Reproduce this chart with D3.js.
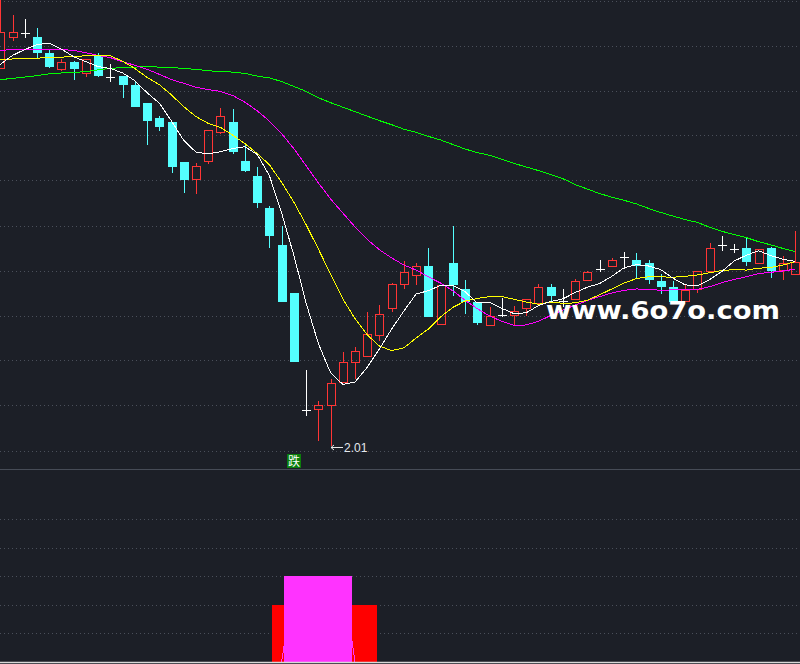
<!DOCTYPE html>
<html><head><meta charset="utf-8">
<script src="https://cdn.jsdelivr.net/npm/d3@7"></script>
<style>html,body{margin:0;padding:0;background:#1c1f27;}svg{display:block;}</style>
</head><body>
<svg id="c" width="800" height="664"></svg>
<script>
// ---- data (prices) ----
const days = d3.range(66);
const open = [2.851,2.918,2.928,2.918,2.884,2.847,2.864,2.838,2.878,2.831,
2.833,2.813,2.773,2.738,2.729,2.640,2.604,2.644,2.707,2.729,
2.644,2.609,2.540,2.456,2.349,2.091,2.093,2.100,2.153,2.196,
2.211,2.256,2.316,2.369,2.389,2.409,2.282,2.416,2.360,2.329,
2.278,2.302,2.302,2.316,2.327,2.364,2.333,2.336,2.380,2.404,
2.409,2.429,2.424,2.416,2.376,2.364,2.333,2.358,2.400,2.456,
2.447,2.449,2.416,2.449,2.402,2.393];
const high = [3.011,2.967,2.958,2.938,2.891,2.869,2.866,2.871,2.884,2.858,
2.833,2.818,2.773,2.744,2.729,2.640,2.638,2.713,2.762,2.758,
2.682,2.629,2.544,2.500,2.349,2.180,2.109,2.158,2.218,2.229,
2.307,2.324,2.373,2.422,2.416,2.449,2.367,2.500,2.380,2.329,
2.318,2.340,2.322,2.336,2.369,2.369,2.360,2.382,2.398,2.424,
2.427,2.442,2.440,2.424,2.393,2.376,2.371,2.400,2.462,2.476,
2.460,2.473,2.447,2.453,2.433,2.487];
const low = [2.849,2.909,2.916,2.873,2.849,2.844,2.824,2.829,2.829,2.818,
2.784,2.764,2.680,2.709,2.616,2.573,2.571,2.636,2.704,2.660,
2.620,2.540,2.449,2.329,2.196,2.076,2.021,2.010,2.153,2.160,
2.211,2.244,2.307,2.358,2.367,2.296,2.280,2.344,2.304,2.280,
2.276,2.296,2.280,2.300,2.327,2.333,2.318,2.336,2.376,2.396,
2.409,2.404,2.384,2.369,2.347,2.331,2.331,2.349,2.400,2.444,
2.438,2.411,2.416,2.384,2.380,2.393];
const close = [2.929,2.929,2.928,2.884,2.853,2.864,2.847,2.869,2.833,2.831,
2.813,2.764,2.733,2.718,2.629,2.600,2.633,2.713,2.744,2.664,
2.620,2.549,2.476,2.329,2.196,2.091,2.100,2.151,2.196,2.220,
2.260,2.304,2.369,2.396,2.409,2.296,2.367,2.367,2.329,2.284,
2.298,2.302,2.309,2.336,2.364,2.344,2.333,2.376,2.396,2.404,
2.424,2.429,2.411,2.380,2.364,2.331,2.356,2.400,2.449,2.456,
2.447,2.420,2.447,2.398,2.416,2.418];
const ma5 = [2.858,2.878,2.891,2.902,2.905,2.892,2.875,2.864,2.853,2.849,
2.839,2.822,2.795,2.772,2.732,2.689,2.663,2.659,2.664,2.671,
2.675,2.658,2.611,2.528,2.434,2.328,2.238,2.173,2.147,2.152,
2.185,2.226,2.270,2.310,2.348,2.355,2.367,2.367,2.353,2.328,
2.329,2.316,2.304,2.306,2.322,2.331,2.337,2.351,2.363,2.371,
2.387,2.406,2.413,2.410,2.402,2.383,2.368,2.366,2.380,2.398,
2.421,2.434,2.444,2.433,2.425,2.420];
const ma10 = [2.868,2.870,2.872,2.872,2.873,2.874,2.876,2.877,2.877,2.877,
2.865,2.849,2.829,2.813,2.790,2.764,2.742,2.727,2.718,2.701,
2.682,2.660,2.635,2.596,2.552,2.502,2.448,2.392,2.337,2.293,
2.257,2.232,2.222,2.228,2.250,2.270,2.297,2.318,2.332,2.338,
2.342,2.342,2.336,2.330,2.325,2.330,2.327,2.328,2.334,2.346,
2.359,2.372,2.382,2.386,2.386,2.385,2.387,2.390,2.395,2.400,
2.402,2.401,2.405,2.407,2.412,2.420];
const ma20 = [2.889,2.891,2.892,2.892,2.892,2.891,2.889,2.884,2.878,2.873,
2.864,2.856,2.847,2.836,2.824,2.816,2.807,2.802,2.798,2.789,
2.774,2.755,2.732,2.704,2.671,2.633,2.595,2.559,2.528,2.497,
2.469,2.446,2.428,2.412,2.401,2.386,2.372,2.355,2.334,2.315,
2.299,2.287,2.278,2.279,2.287,2.300,2.312,2.323,2.333,2.342,
2.350,2.356,2.359,2.358,2.356,2.357,2.357,2.358,2.364,2.373,
2.380,2.386,2.393,2.396,2.399,2.403];
const ma60 = [2.824,2.827,2.830,2.833,2.837,2.839,2.840,2.842,2.846,2.849,
2.851,2.852,2.853,2.852,2.851,2.849,2.847,2.844,2.842,2.841,
2.838,2.832,2.828,2.820,2.809,2.798,2.784,2.773,2.763,2.753,
2.743,2.733,2.724,2.714,2.707,2.698,2.690,2.680,2.670,2.662,
2.656,2.647,2.638,2.630,2.622,2.613,2.604,2.591,2.581,2.571,
2.563,2.556,2.548,2.538,2.529,2.521,2.513,2.507,2.496,2.487,
2.480,2.473,2.464,2.457,2.449,2.442];
// lower indicator panel
const redBar = [0,0,0,0,0,0,0,0,0,0, 0,0,0,0,0,0,0,0,0,0, 0,0,0,20,20,20,20,20,20,20, 20,0,0,0,0,0,0,0,0,0, 0,0,0,0,0,0,0,0,0,0, 0,0,0,0,0,0,0,0,0,0, 0,0,0,0,0,0];
const magBar = [0,0,0,0,0,0,0,0,0,0, 0,0,0,0,0,0,0,0,0,0, 0,0,0,0,30,30,30,30,30,0, 0,0,0,0,0,0,0,0,0,0, 0,0,0,0,0,0,0,0,0,0, 0,0,0,0,0,0,0,0,0,0, 0,0,0,0,0,0];
const magLine = [0,0,0,0,0,0,0,0,0,0, 0,0,0,0,0,0,0,0,0,0, 0,0,0,0,28,29.5,29.5,29.5,29.5,0, 0,0,0,0,0,0,0,0,0,0, 0,0,0,0,0,0,0,0,0,0, 0,0,0,0,0,0,0,0,0,0, 0,0,0,0,0,0];
const priceTicks = [2.0,2.1,2.2,2.3,2.4,2.5,2.6,2.7,2.8,2.9,3.0];
const lowerTicks = [10,20,30,40,50];
const signalLabel = "跌";
const signalIndex = 24;
const lowLabel = "2.01";
const watermark = "www.6o7o.com";

// ---- drawing ----
const W = 800, H = 664;
const svg = d3.select("#c");
const COL = {bg:"#1c1f27", grid:"#4a4f5a", red:"#ff3535", cyan:"#54ffff", white:"#ffffff",
  yellow:"#ffff00", mag:"#ff00ff", green:"#00ff00"};

const x = d3.scaleLinear().domain([0, 65]).range([0.3, 795.3]);
const y = d3.scaleLinear().domain([2.0, 3.0]).range([450.5, 0.5]);
const yl = d3.scaleLinear().domain([0, 50]).range([662, 519]);

svg.append("rect").attr("width", W).attr("height", H).attr("fill", COL.bg);

svg.append("defs").append("clipPath").attr("id", "mainClip")
  .append("rect").attr("x", 0).attr("y", 0).attr("width", W).attr("height", 468);

// grid (main)
svg.append("g").attr("shape-rendering", "crispEdges").selectAll("line").data(priceTicks).join("line")
  .attr("x1", 0).attr("x2", W)
  .attr("y1", d => Math.round(y(d)) + 0.5).attr("y2", d => Math.round(y(d)) + 0.5)
  .attr("stroke", COL.grid).attr("stroke-width", 1).attr("stroke-dasharray", "1,3");
// grid (lower)
svg.append("g").attr("shape-rendering", "crispEdges").selectAll("line").data(lowerTicks).join("line")
  .attr("x1", 0).attr("x2", W)
  .attr("y1", d => Math.round(yl(d)) + 0.5).attr("y2", d => Math.round(yl(d)) + 0.5)
  .attr("stroke", COL.grid).attr("stroke-width", 1).attr("stroke-dasharray", "1,3");

const main = svg.append("g").attr("clip-path", "url(#mainClip)");

// candles
const bw = 9;
const cg = main.append("g").attr("shape-rendering", "crispEdges");
days.forEach(i => {
  const cx = Math.round(x(i));
  const o = open[i], c = close[i], h = high[i], l = low[i];
  const xl = cx - 4;
  if (c > o) {
    const top = Math.round(y(c)), bot = Math.round(y(o));
    cg.append("rect").attr("x", xl + 0.5).attr("y", top + 0.5)
      .attr("width", bw - 1).attr("height", Math.max(1, bot - top))
      .attr("fill", "none").attr("stroke", COL.red).attr("stroke-width", 1);
    cg.append("line").attr("x1", cx + 0.5).attr("x2", cx + 0.5)
      .attr("y1", y(h)).attr("y2", top + 0.5).attr("stroke", COL.red);
    cg.append("line").attr("x1", cx + 0.5).attr("x2", cx + 0.5)
      .attr("y1", bot + 0.5).attr("y2", y(l)).attr("stroke", COL.red);
  } else if (c < o) {
    const top = Math.round(y(o)), bot = Math.round(y(c));
    cg.append("line").attr("x1", cx + 0.5).attr("x2", cx + 0.5)
      .attr("y1", y(h)).attr("y2", y(l)).attr("stroke", COL.cyan);
    cg.append("rect").attr("x", xl).attr("y", top)
      .attr("width", bw).attr("height", Math.max(1, bot - top))
      .attr("fill", COL.cyan);
  } else {
    const yy = Math.round(y(c)) + 0.5;
    cg.append("line").attr("x1", cx + 0.5).attr("x2", cx + 0.5)
      .attr("y1", y(h)).attr("y2", y(l)).attr("stroke", COL.white);
    cg.append("line").attr("x1", xl).attr("x2", xl + bw)
      .attr("y1", yy).attr("y2", yy).attr("stroke", COL.white);
  }
});

// moving averages
const lineGen = arr => d3.line().x(i => x(i)).y(i => y(arr[i]))(days);
[[ma60, COL.green], [ma20, COL.mag], [ma10, COL.yellow], [ma5, COL.white]].forEach(([arr, col]) => {
  main.append("path").attr("d", lineGen(arr)).attr("fill", "none")
    .attr("stroke", col).attr("stroke-width", 1).attr("shape-rendering", "crispEdges");
});

// low label
const lowIdx = d3.minIndex(low);
const lx = Math.round(x(lowIdx)), ly = Math.round(y(low[lowIdx])) + 1.5;
main.append("path")
  .attr("d", `M${lx},${ly} H${lx + 12} M${lx + 3},${ly - 2.5} L${lx},${ly} L${lx + 3},${ly + 2.5}`)
  .attr("stroke", "#e8e8e8").attr("fill", "none").attr("stroke-width", 1);
main.append("text").attr("x", lx + 13).attr("y", ly + 4.5)
  .attr("font-family", "Liberation Sans, Arial, sans-serif").attr("font-size", 12)
  .attr("fill", "#e4e8ee").text(lowLabel);

// signal label
const sx = Math.round(x(signalIndex));
main.append("rect").attr("x", sx - 7).attr("y", 454).attr("width", 14).attr("height", 14)
  .attr("fill", "#0b7d0b");
main.append("text").attr("x", sx).attr("y", 465.5).attr("text-anchor", "middle")
  .attr("font-family", "Noto Sans CJK SC, sans-serif").attr("font-size", 12)
  .attr("fill", "#ffffff").text(signalLabel);

// separator
svg.append("line").attr("x1", 0).attr("x2", W).attr("y1", 469.5).attr("y2", 469.5)
  .attr("stroke", "#464b56").attr("stroke-width", 1);

// lower panel bars
const lower = svg.append("g").attr("shape-rendering", "crispEdges");
const half = 9.5;
lower.selectAll("rect.r").data(days.filter(i => redBar[i] > 0)).join("rect")
  .attr("x", i => x(i) - half).attr("width", half * 2)
  .attr("y", i => yl(redBar[i])).attr("height", i => yl(0) - yl(redBar[i]))
  .attr("fill", "#ff0000");
lower.selectAll("rect.m").data(days.filter(i => magBar[i] > 0)).join("rect")
  .attr("x", i => x(i) - half).attr("width", half * 2)
  .attr("y", i => yl(magBar[i])).attr("height", i => yl(0) - yl(magBar[i]))
  .attr("fill", "#ff33ff");
svg.append("path").attr("d", d3.line().x(i => x(i)).y(i => yl(magLine[i]))(days))
  .attr("fill", "none").attr("stroke", "#ff33ff").attr("stroke-width", 1)
  .attr("shape-rendering", "crispEdges");

// bottom border
svg.append("line").attr("x1", 0).attr("x2", W).attr("y1", 662.5).attr("y2", 662.5)
  .attr("stroke", "#d8d8d8").attr("stroke-width", 1.5);

// watermark
svg.append("text").attr("x", 546).attr("y", 319)
  .attr("font-family", "DejaVu Sans, sans-serif").attr("font-weight", "bold")
  .attr("font-size", 24).attr("fill", "#ffffff")
  .attr("textLength", 234).attr("lengthAdjust", "spacingAndGlyphs")
  .text(watermark);
</script>
</body></html>
